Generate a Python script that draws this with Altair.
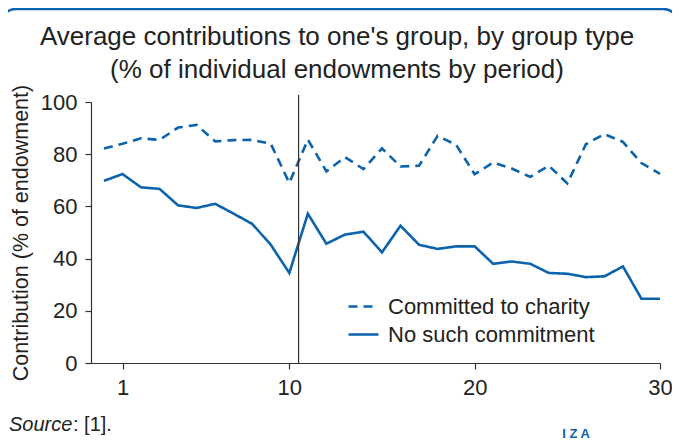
import altair as alt
import pandas as pd

# ---- data ----
PERIODS = list(range(0, 31))
COMMITTED = [82.2, 84.0, 86.1, 85.5, 90.2, 91.2, 84.9, 85.4, 85.5, 84.0, 69.0,
             85.6, 73.4, 78.9, 74.3, 82.2, 75.3, 75.6, 87.0, 83.6, 72.3,
             76.8, 74.5, 71.3, 75.6, 68.8, 83.8, 87.7, 84.7, 76.6, 72.5]
NO_COMMIT = [69.8, 72.4, 67.3, 66.7, 60.4, 59.4, 61.0, 57.2, 53.3, 45.3, 34.5,
             57.2, 45.7, 49.2, 50.3, 42.4, 52.6, 45.3, 43.7, 44.7, 44.7,
             38.0, 38.9, 38.0, 34.5, 34.2, 32.9, 33.2, 37.0, 24.6, 24.6]
SERIES = ["Committed to charity", "No such commitment"]
X_TICKS = [1, 10, 20, 30]
Y_TICKS = [0, 20, 40, 60, 80, 100]
BREAK_X = [10.5]
TITLE_LINES = ["Average contributions to one's group, by group type",
               "(% of individual endowments by period)"]

BLUE = "#0b62ad"
DARK = "#222222"
FONT = "Liberation Sans"

df = pd.DataFrame({
    "period": PERIODS * 2,
    "value": COMMITTED + NO_COMMIT,
    "series": [SERIES[0]] * len(PERIODS) + [SERIES[1]] * len(PERIODS),
})

W, H = 569, 261
PAD_L, PAD_T = 83, 94
PAD_R = 664 - PAD_L - W
PAD_B = 432 - PAD_T - H

x_scale = alt.Scale(domain=[-0.7, 30], nice=False, zero=False)
y_scale = alt.Scale(domain=[0, 100], nice=False)

lines = alt.Chart(df).mark_line(strokeWidth=2.6, color=BLUE).encode(
    x=alt.X("period:Q", scale=x_scale,
            axis=alt.Axis(values=X_TICKS, title=None, labelPadding=8,
                          labelFlush=False)),
    y=alt.Y("value:Q", scale=y_scale,
            axis=alt.Axis(values=Y_TICKS, title="Contribution (% of endowment)",
                          labelPadding=8, titlePadding=8)),
    strokeDash=alt.StrokeDash(
        "series:N",
        scale=alt.Scale(domain=SERIES, range=[[9, 6], [1, 0]]),
        legend=alt.Legend(
            title=None, orient="none", legendX=256, legendY=188,
            symbolType="stroke", symbolSize=900, symbolStrokeWidth=2.6,
            symbolStrokeColor=BLUE, labelFontSize=22, labelFont=FONT,
            labelColor=DARK, labelOffset=8, rowPadding=-4, labelLimit=0,
        ),
    ),
)

rule = alt.Chart(pd.DataFrame({"x": BREAK_X})).mark_rule(
    color="#333333", strokeWidth=1.2
).encode(x=alt.X("x:Q", scale=x_scale), y=alt.value(-7), y2=alt.value(H))

blank = alt.Data(values=[{"a": 1}])

title1 = alt.Chart(blank).mark_text(
    text=TITLE_LINES[0], font=FONT, fontSize=26, color=DARK,
    align="center", baseline="middle"
).encode(x=alt.value(246), y=alt.value(-65))

title2 = alt.Chart(blank).mark_text(
    text=TITLE_LINES[1], font=FONT, fontSize=26, color=DARK,
    align="center", baseline="middle"
).encode(x=alt.value(246), y=alt.value(-32))

source_italic = alt.Chart(blank).mark_text(
    text="Source", font=FONT, fontSize=20, fontStyle="italic", color=DARK,
    align="left", baseline="middle"
).encode(x=alt.value(-82), y=alt.value(323))

source_rest = alt.Chart(blank).mark_text(
    text=": [1].", font=FONT, fontSize=20, color=DARK,
    align="left", baseline="middle"
).encode(x=alt.value(-82 + 64), y=alt.value(323))

logo = alt.Chart(blank).mark_text(
    text="I  Z  A", font=FONT, fontSize=13, fontWeight="bold", color=BLUE,
    align="center", baseline="middle"
).encode(x=alt.value(485), y=alt.value(332))

frame = alt.Chart(blank).mark_rect(
    fill="transparent", stroke=BLUE, strokeWidth=2.5, cornerRadius=16
).encode(x=alt.value(-91), x2=alt.value(588), y=alt.value(-93), y2=alt.value(360))

chart = alt.layer(frame, lines, rule, title1, title2,
                  source_italic, source_rest, logo).properties(
    width=W, height=H,
    autosize=alt.AutoSizeParams(type="none"),
    padding={"left": PAD_L, "top": PAD_T, "right": PAD_R, "bottom": PAD_B},
).configure_view(stroke=None).configure_axis(
    grid=False, domainColor="#333333", tickColor="#333333", tickSize=6,
    labelFont=FONT, labelFontSize=22, labelColor=DARK,
    titleFont=FONT, titleFontSize=21.5, titleColor=DARK, titleFontWeight="normal",
    domainWidth=1.2, tickWidth=1.2,
)

chart.save("out.html", embed_options={"renderer": "svg", "actions": False})
